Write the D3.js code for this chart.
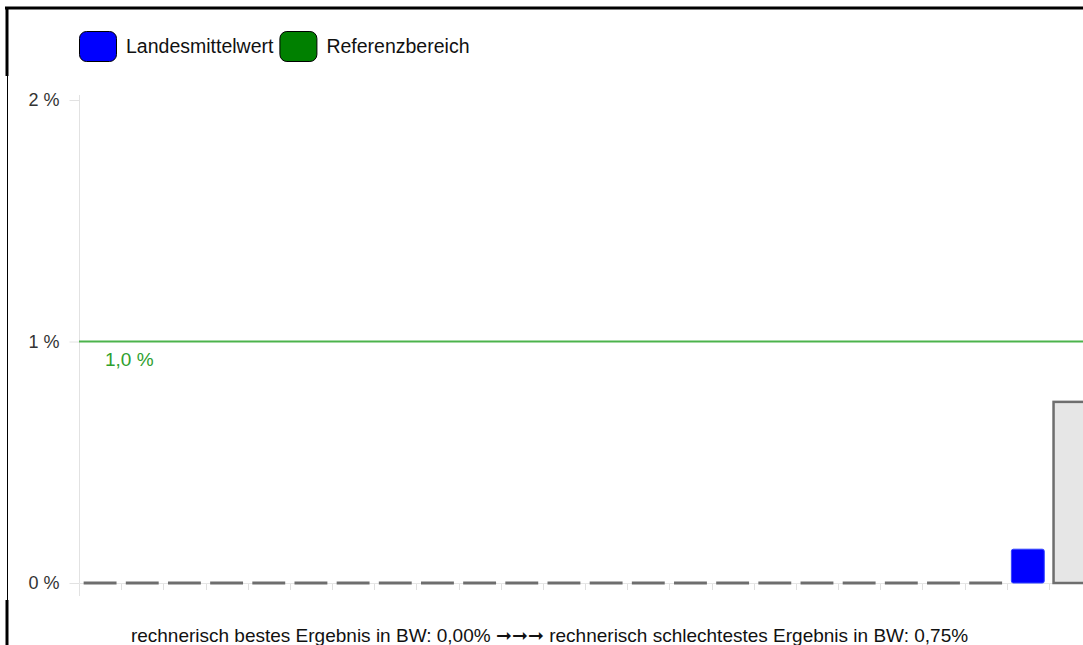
<!DOCTYPE html>
<html>
<head>
<meta charset="utf-8">
<script src="https://cdn.jsdelivr.net/npm/d3@7"></script>
<style>
  body {margin:0; background:#fff;}
  svg {display:block; font-family:"Liberation Sans", Arial, sans-serif;}
</style>
</head>
<body>
<svg id="chart" width="1083" height="645"></svg>
<script>
/*** Data ***/
const categories = d3.range(1, 25).map(i => "KH " + i)
const values     = [0,0,0,0,0,0,0,0,0,0,0,0,0,0,0,0,0,0,0,0,0,0, 0.14, 0.75]
const kinds      = values.map((_, i) => i == 22 ? "mean" : "clinic")
const yTicks     = [0, 1, 2]
const yTickLabels = ["0 %", "1 %", "2 %"]
const refValue   = 1.0
const refLabel   = "1,0 %"
const legendItems  = ["Landesmittelwert", "Referenzbereich"]
const legendColors = ["#0000ff", "#008000"]
const footer = "rechnerisch bestes Ergebnis in BW: 0,00% \u279E\u279E\u279E rechnerisch schlechtestes Ergebnis in BW: 0,75%"

/*** Setup ***/
const svg = d3.select("#chart")
const X0 = 79, BAND = 42.17
const x = d3.scaleBand().domain(categories).range([X0, X0 + BAND * categories.length]).paddingInner(0.22).paddingOuter(0.11)
const y = d3.scaleLinear().domain([0, 2]).range([583, 100])

// frame
svg.append("line").attr("x1", 5).attr("x2", 1083).attr("y1", 8).attr("y2", 8).attr("stroke", "#000").attr("stroke-width", 3)
svg.append("line").attr("x1", 7).attr("x2", 7).attr("y1", 7).attr("y2", 76).attr("stroke", "#000").attr("stroke-width", 3)
svg.append("line").attr("x1", 7.5).attr("x2", 7.5).attr("y1", 76).attr("y2", 600).attr("stroke", "#000").attr("stroke-width", 1)
svg.append("line").attr("x1", 7).attr("x2", 7).attr("y1", 600).attr("y2", 645).attr("stroke", "#000").attr("stroke-width", 3)

// legend
const leg = svg.append("g")
let lx = 79
legendItems.forEach((t, i) => {
	leg.append("rect").attr("x", lx + 0.5).attr("y", 31.5).attr("width", 37).attr("height", 30)
		.attr("rx", 7).attr("fill", legendColors[i]).attr("stroke", "#000").attr("stroke-width", 1)
	const tx = leg.append("text").attr("x", lx + 47).attr("y", 53).attr("font-size", 19.5).attr("fill", "#111").text(t)
	lx += 47 + tx.node().getComputedTextLength() + 6
})

// y axis
const yAxis = svg.append("g").attr("transform", "translate(79.5,0)")
	.call(d3.axisLeft(y).tickValues(yTicks).tickFormat((d, i) => yTickLabels[i]).tickSize(10).tickPadding(10))
yAxis.select(".domain").remove()
yAxis.append("line").attr("y1", 95).attr("y2", 596).attr("stroke", "#e2e2e2")
yAxis.selectAll(".tick line").attr("stroke", "#e2e2e2")
yAxis.selectAll(".tick text").attr("font-size", 18).attr("fill", "#333").attr("font-family", "Liberation Sans, Arial, sans-serif")

// x baseline + ticks
svg.append("line").attr("x1", 79).attr("x2", 1083).attr("y1", 583.5).attr("y2", 583.5).attr("stroke", "#e6e6e6")
svg.append("g").selectAll("line").data(categories.slice(1)).join("line")
	.attr("x1", d => Math.round(x(d) - x.step() * x.paddingInner() / 2) + 0.5)
	.attr("x2", d => Math.round(x(d) - x.step() * x.paddingInner() / 2) + 0.5)
	.attr("y1", 584).attr("y2", 590).attr("stroke", "#e0e0e0")

// reference line
svg.append("line").attr("x1", 79).attr("x2", 1083).attr("y1", y(refValue)).attr("y2", y(refValue))
	.attr("stroke", "#4cb34c").attr("stroke-width", 2)
svg.append("text").attr("x", 105).attr("y", y(refValue) + 24).attr("font-size", 19).attr("fill", "#2ea02e").text(refLabel)

// bars
const bars = svg.append("g")
values.forEach((v, i) => {
	const c = categories[i]
	if (kinds[i] == "mean") {
		bars.append("rect").attr("x", x(c)).attr("y", y(v)).attr("width", x.bandwidth()).attr("height", y(0) - y(v))
			.attr("rx", 2).attr("fill", "#0000ff").attr("stroke", "#3344ff").attr("stroke-width", 1)
	} else if (v == 0) {
		bars.append("line").attr("x1", x(c)).attr("x2", x(c) + x.bandwidth()).attr("y1", y(0)).attr("y2", y(0))
			.attr("stroke", "#6e6e6e").attr("stroke-width", 3)
	} else {
		bars.append("rect").attr("x", x(c)).attr("y", y(v)).attr("width", x.bandwidth()).attr("height", y(0) - y(v))
			.attr("fill", "#e6e6e6").attr("stroke", "#6e6e6e").attr("stroke-width", 2.5)
	}
})

// footer
svg.append("text").attr("x", 549.5).attr("y", 642).attr("text-anchor", "middle").attr("font-size", 19).attr("fill", "#111").text(footer)
</script>
</body>
</html>
